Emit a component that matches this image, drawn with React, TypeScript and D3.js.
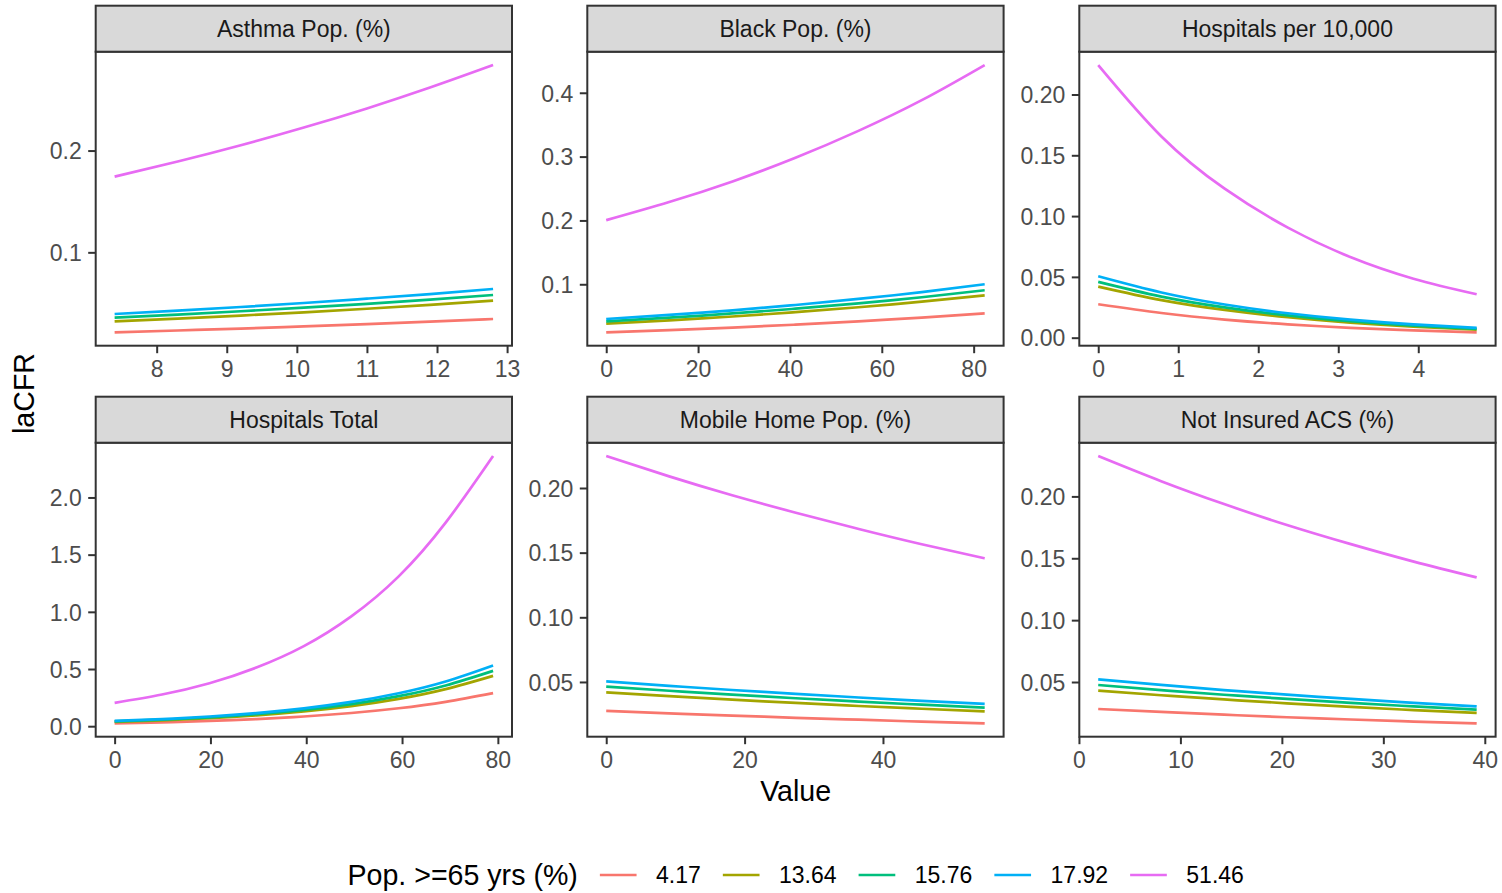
import React, { useEffect, useRef } from "react";
import * as d3 from "d3";

// ---------- data ----------
const seriesLabels = ["4.17", "13.64", "15.76", "17.92", "51.46"];
const seriesColors = ["#F8766D", "#A3A500", "#00BF7D", "#00B0F6", "#E76BF3"];
const legendTitle = "Pop. >=65 yrs (%)";
const xTitle = "Value";
const yTitle = "laCFR";

const facetNames = [
  "Asthma Pop. (%)",
  "Black Pop. (%)",
  "Hospitals per 10,000",
  "Hospitals Total",
  "Mobile Home Pop. (%)",
  "Not Insured ACS (%)",
];

// Asthma Pop. (%)
const asthmaX = [7.4, 8.3, 9.2, 10.1, 11.0, 11.9, 12.8];
const asthmaY = [
  [0.0214, 0.0232, 0.0251, 0.0272, 0.0294, 0.0319, 0.0345],
  [0.0322, 0.0349, 0.0379, 0.0411, 0.0446, 0.0484, 0.0525],
  [0.0358, 0.0388, 0.0421, 0.0456, 0.0494, 0.0536, 0.0581],
  [0.0394, 0.0427, 0.0463, 0.0502, 0.0545, 0.059, 0.064],
  [0.1744, 0.1892, 0.2052, 0.2226, 0.2414, 0.2619, 0.284],
];
const asthmaXTicks = [8, 9, 10, 11, 12, 13];
const asthmaXLabels = ["8", "9", "10", "11", "12", "13"];
const asthmaYTicks = [0.1, 0.2];
const asthmaYLabels = ["0.1", "0.2"];

// Black Pop. (%)
const blackX = [0, 13.7, 27.5, 41.2, 54.9, 68.7, 82.4];
const blackY = [
  [0.0247, 0.0282, 0.0322, 0.0367, 0.0419, 0.0478, 0.0545],
  [0.0383, 0.0435, 0.0495, 0.0563, 0.064, 0.0728, 0.0827],
  [0.042, 0.0477, 0.0543, 0.0617, 0.0701, 0.0797, 0.0906],
  [0.0456, 0.052, 0.0592, 0.0675, 0.077, 0.0877, 0.1],
  [0.2004, 0.2288, 0.2611, 0.2981, 0.3403, 0.3884, 0.4434],
];
const blackXTicks = [0, 20, 40, 60, 80];
const blackXLabels = ["0", "20", "40", "60", "80"];
const blackYTicks = [0.1, 0.2, 0.3, 0.4];
const blackYLabels = ["0.1", "0.2", "0.3", "0.4"];

// Hospitals per 10,000
const hosp10kX = [0, 0.79, 1.58, 2.37, 3.15, 3.94, 4.73];
const hosp10kY = [
  [0.0275, 0.0203, 0.0149, 0.011, 0.0081, 0.006, 0.0044],
  [0.042, 0.0309, 0.0228, 0.0168, 0.0123, 0.0091, 0.0067],
  [0.0459, 0.0338, 0.0249, 0.0183, 0.0135, 0.0099, 0.0073],
  [0.0505, 0.0372, 0.0273, 0.0201, 0.0148, 0.0109, 0.008],
  [0.2242, 0.1655, 0.1225, 0.0905, 0.0663, 0.0485, 0.0357],
];
const hosp10kXTicks = [0, 1, 2, 3, 4];
const hosp10kXLabels = ["0", "1", "2", "3", "4"];
const hosp10kYTicks = [0, 0.05, 0.1, 0.15, 0.2];
const hosp10kYLabels = ["0.00", "0.05", "0.10", "0.15", "0.20"];

// Hospitals Total
const hospTotX = [0, 9.9, 19.8, 29.6, 39.5, 49.4, 59.3, 69.1, 79];
const hospTotY = [
  [0.025, 0.034, 0.0461, 0.0626, 0.085, 0.1154, 0.1568, 0.2129, 0.289],
  [0.038, 0.0516, 0.0701, 0.0952, 0.1293, 0.1756, 0.2385, 0.3239, 0.44],
  [0.0418, 0.0568, 0.0771, 0.1047, 0.1422, 0.1931, 0.2623, 0.3562, 0.484],
  [0.0459, 0.0623, 0.0847, 0.115, 0.1561, 0.212, 0.288, 0.391, 0.531],
  [0.204, 0.277, 0.376, 0.513, 0.7, 0.96, 1.31, 1.78, 2.362],
];
const hospTotXTicks = [0, 20, 40, 60, 80];
const hospTotXLabels = ["0", "20", "40", "60", "80"];
const hospTotYTicks = [0, 0.5, 1, 1.5, 2];
const hospTotYLabels = ["0.0", "0.5", "1.0", "1.5", "2.0"];

// Mobile Home Pop. (%)
const mobileX = [0, 9.1, 18.2, 27.4, 36.5, 45.6, 54.7];
const mobileY = [
  [0.0276, 0.0257, 0.024, 0.0223, 0.0208, 0.0193, 0.018],
  [0.042, 0.039, 0.0363, 0.0338, 0.0314, 0.0293, 0.0273],
  [0.0464, 0.0432, 0.0402, 0.0374, 0.0348, 0.0324, 0.0302],
  [0.0505, 0.047, 0.0438, 0.0408, 0.038, 0.0354, 0.033],
  [0.2247, 0.209, 0.1944, 0.1809, 0.1683, 0.1565, 0.1456],
];
const mobileXTicks = [0, 20, 40];
const mobileXLabels = ["0", "20", "40"];
const mobileYTicks = [0.05, 0.1, 0.15, 0.2];
const mobileYLabels = ["0.05", "0.10", "0.15", "0.20"];

// Not Insured ACS (%)
const notInsX = [1.9, 8.1, 14.3, 20.5, 26.8, 33.0, 39.2];
const notInsY = [
  [0.0282, 0.0258, 0.0236, 0.0215, 0.0197, 0.018, 0.0166],
  [0.043, 0.0393, 0.0359, 0.0328, 0.0299, 0.0273, 0.025],
  [0.0476, 0.0435, 0.0397, 0.0363, 0.0331, 0.0303, 0.0277],
  [0.0522, 0.0477, 0.0435, 0.0398, 0.0363, 0.0332, 0.0303],
  [0.2326, 0.2123, 0.1938, 0.1769, 0.1614, 0.1473, 0.1345],
];
const notInsXTicks = [0, 10, 20, 30, 40];
const notInsXLabels = ["0", "10", "20", "30", "40"];
const notInsYTicks = [0.05, 0.1, 0.15, 0.2];
const notInsYLabels = ["0.05", "0.10", "0.15", "0.20"];

const panels = [
  { name: facetNames[0], x: asthmaX, ys: asthmaY, xt: asthmaXTicks, xl: asthmaXLabels, yt: asthmaYTicks, yl: asthmaYLabels },
  { name: facetNames[1], x: blackX, ys: blackY, xt: blackXTicks, xl: blackXLabels, yt: blackYTicks, yl: blackYLabels },
  { name: facetNames[2], x: hosp10kX, ys: hosp10kY, xt: hosp10kXTicks, xl: hosp10kXLabels, yt: hosp10kYTicks, yl: hosp10kYLabels },
  { name: facetNames[3], x: hospTotX, ys: hospTotY, xt: hospTotXTicks, xl: hospTotXLabels, yt: hospTotYTicks, yl: hospTotYLabels },
  { name: facetNames[4], x: mobileX, ys: mobileY, xt: mobileXTicks, xl: mobileXLabels, yt: mobileYTicks, yl: mobileYLabels },
  { name: facetNames[5], x: notInsX, ys: notInsY, xt: notInsXTicks, xl: notInsXLabels, yt: notInsYTicks, yl: notInsYLabels },
];

// ---------- layout ----------
const W = 1502;
const H = 893;
const colLeft = [95.7, 587.3, 1079.3];
const panelW = 416.3;
const rowTop = [5.7, 396.7];
const stripH = 46;
const panelH = 294;
const FONT = "'Liberation Sans', Arial, Helvetica, sans-serif";
const SMALL = 23;
const BIG = 28.6;
const LINE_W = 2.7;

export default function App() {
  const ref = useRef<SVGSVGElement | null>(null);

  useEffect(() => {
    const svg = d3.select(ref.current);
    svg.selectAll("*").remove();

    svg.append("rect").attr("width", W).attr("height", H).attr("fill", "#FFFFFF");

    panels.forEach((p, i) => {
      const col = i % 3;
      const row = Math.floor(i / 3);
      const x0 = colLeft[col];
      const sTop = rowTop[row];
      const pTop = sTop + stripH;
      const pBot = pTop + panelH;

      const xe = d3.extent(p.x) as [number, number];
      const xr = xe[1] - xe[0];
      const xs = d3.scaleLinear().domain([xe[0] - 0.05 * xr, xe[1] + 0.05 * xr]).range([x0, x0 + panelW]);
      const allY = p.ys.flat();
      const ye = d3.extent(allY) as [number, number];
      const yr = ye[1] - ye[0];
      const ys = d3.scaleLinear().domain([ye[0] - 0.05 * yr, ye[1] + 0.05 * yr]).range([pBot, pTop]);

      const g = svg.append("g");
      g.append("rect").attr("x", x0).attr("y", pTop).attr("width", panelW).attr("height", panelH).attr("fill", "#FFFFFF");

      const line = d3
        .line<[number, number]>()
        .x((d) => xs(d[0]))
        .y((d) => ys(d[1]))
        .curve(d3.curveNatural);

      p.ys.forEach((vals, k) => {
        const pts = vals.map((v, j) => [p.x[j], v] as [number, number]);
        g.append("path")
          .datum(pts)
          .attr("d", line)
          .attr("fill", "none")
          .attr("stroke", seriesColors[k])
          .attr("stroke-width", LINE_W)
          .attr("stroke-linejoin", "round")
          .attr("stroke-linecap", "butt");
      });

      // panel border
      g.append("rect")
        .attr("x", x0).attr("y", pTop).attr("width", panelW).attr("height", panelH)
        .attr("fill", "none").attr("stroke", "#333333").attr("stroke-width", 2);

      // strip
      g.append("rect")
        .attr("x", x0).attr("y", sTop).attr("width", panelW).attr("height", stripH)
        .attr("fill", "#D9D9D9").attr("stroke", "#333333").attr("stroke-width", 2);
      g.append("text")
        .attr("x", x0 + panelW / 2).attr("y", sTop + stripH / 2).attr("dy", "0.36em")
        .attr("text-anchor", "middle").attr("font-family", FONT).attr("font-size", SMALL)
        .attr("fill", "#1A1A1A").text(p.name);

      // axes
      const ax = d3.axisLeft(ys).tickValues(p.yt).tickFormat((_d, j) => p.yl[j]).tickSize(7.5).tickPadding(6.5);
      const gy = g.append("g").attr("transform", `translate(${x0},0)`).call(ax);
      const bx = d3.axisBottom(xs).tickValues(p.xt).tickFormat((_d, j) => p.xl[j]).tickSize(7.5).tickPadding(7.5);
      const gx = g.append("g").attr("transform", `translate(0,${pBot})`).call(bx);
      [gy, gx].forEach((a) => {
        a.select(".domain").remove();
        a.selectAll(".tick line").attr("stroke", "#333333").attr("stroke-width", 2);
        a.selectAll(".tick text").attr("fill", "#4D4D4D").attr("font-family", FONT).attr("font-size", SMALL);
      });
      gy.selectAll(".tick text").attr("dy", "0.36em");
    });

    // axis titles
    svg.append("text")
      .attr("x", (colLeft[0] + colLeft[2] + panelW) / 2).attr("y", 801)
      .attr("text-anchor", "middle").attr("font-family", FONT).attr("font-size", BIG)
      .attr("fill", "#000000").text(xTitle);
    svg.append("text")
      .attr("transform", `translate(33.5,393.5) rotate(-90)`)
      .attr("text-anchor", "middle").attr("font-family", FONT).attr("font-size", BIG)
      .attr("fill", "#000000").text(yTitle);

    // legend
    const lg = svg.append("g");
    const ly = 875;
    const title = lg.append("text")
      .attr("x", 0).attr("y", ly).attr("dy", "0.36em")
      .attr("font-family", FONT).attr("font-size", BIG).attr("fill", "#000000").text(legendTitle);
    let cx = (title.node() as SVGTextElement).getComputedTextLength() + 22;
    seriesLabels.forEach((lab, k) => {
      lg.append("line")
        .attr("x1", cx).attr("x2", cx + 36.7).attr("y1", ly).attr("y2", ly)
        .attr("stroke", seriesColors[k]).attr("stroke-width", 2.7);
      cx += 36.7 + 19.5;
      const t = lg.append("text")
        .attr("x", cx).attr("y", ly).attr("dy", "0.36em")
        .attr("font-family", FONT).attr("font-size", SMALL).attr("fill", "#000000").text(lab);
      cx += (t.node() as SVGTextElement).getComputedTextLength();
      if (k < seriesLabels.length - 1) cx += 22;
    });
    const center = (colLeft[0] + colLeft[2] + panelW) / 2;
    lg.attr("transform", `translate(${center - cx / 2},0)`);
  }, []);

  return (
    <svg
      ref={ref}
      width={W}
      height={H}
      style={{ position: "absolute", left: 0, top: 0, display: "block" }}
    />
  );
}
